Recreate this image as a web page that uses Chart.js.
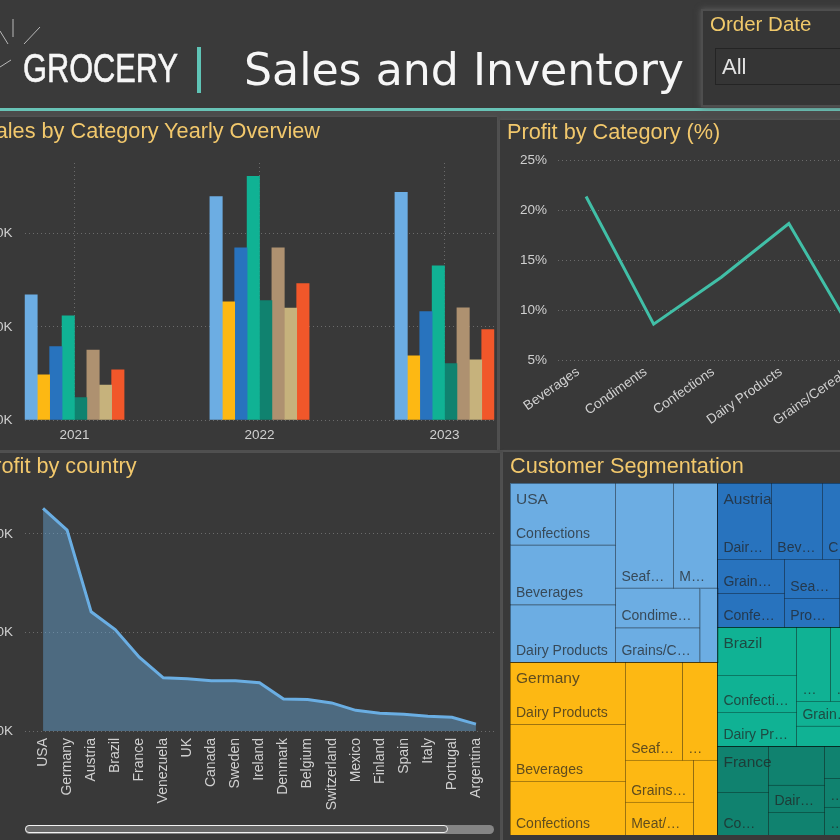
<!DOCTYPE html>
<html><head><meta charset="utf-8">
<script src="https://cdn.jsdelivr.net/npm/chart.js@4.4.1/dist/chart.umd.min.js"></script>
<style>
html,body{margin:0;padding:0;overflow:hidden;}
body{width:840px;height:840px;position:relative;background:#3a3a3a;font-family:'Liberation Sans',Arial,sans-serif;}
.abs{position:absolute;}
canvas{position:absolute;}
</style></head><body>
<div class="abs" style="left:0;top:111px;width:840px;height:729px;background:#4b4b4b"></div>
<div class="abs" style="left:0;top:108px;width:840px;height:3px;background:#68c3b6"></div>
<div class="abs" style="left:-20px;top:117px;width:517px;height:333px;background:#393939;box-shadow:0 0 3px #5a5a5a"></div>
<div class="abs" style="left:500px;top:120px;width:360px;height:330px;background:#393939;box-shadow:0 0 3px #5a5a5a"></div>
<div class="abs" style="left:-20px;top:453px;width:520px;height:400px;background:#393939;box-shadow:0 0 3px #5a5a5a"></div>
<div class="abs" style="left:503px;top:452px;width:360px;height:400px;background:#393939;box-shadow:0 0 3px #5a5a5a"></div>
<div class="abs" style="left:703px;top:11px;width:160px;height:94px;background:#363636;box-shadow:0 0 0 2px #4e4e4e,0 0 6px 2px #5c5c5c"></div>
<div class="abs" style="left:715px;top:48px;width:150px;height:35px;background:#353535;border:1px solid #242424"></div>
<div class="abs" style="left:25px;top:825px;width:469px;height:9px;background:#858585;border-radius:5px"></div>
<div class="abs" style="left:25px;top:825px;width:421px;height:6px;background:#676767;border:1.5px solid #f2f2f2;border-radius:5px"></div>

<canvas id="bar" width="535" height="300" style="left:-40px;top:150px"></canvas>
<canvas id="line" width="397" height="300" style="left:500px;top:150px"></canvas>
<canvas id="area" width="534" height="351" style="left:-40px;top:470px"></canvas>
<canvas id="tree" width="580" height="352" style="left:510px;top:483px"></canvas>

<svg class="abs" style="left:0;top:0" width="840" height="840" xmlns="http://www.w3.org/2000/svg">
  <g stroke="#b8b8b8" stroke-width="1">
    <line x1="13" y1="19" x2="13" y2="37"/>
    <line x1="40" y1="27" x2="24" y2="44"/>
    <line x1="0" y1="31" x2="8" y2="44"/>
    <line x1="0" y1="67" x2="11" y2="60"/>
  </g>
  <text x="23" y="82" font-family="Liberation Sans" font-size="40.5" fill="#f6f6f6" stroke="#f6f6f6" stroke-width="0.6" textLength="155" lengthAdjust="spacingAndGlyphs">GROCERY</text>
  <rect x="197" y="47" width="4" height="46" fill="#5fc4b6"/>
  <text x="244" y="85" font-family="DejaVu Sans" font-size="44" fill="#f6f6f6" textLength="440" lengthAdjust="spacingAndGlyphs">Sales and Inventory</text>
  <text x="710" y="31" font-family="Liberation Sans" font-size="20.5" fill="#f0c96a">Order Date</text>
  <text x="722" y="74" font-family="Liberation Sans" font-size="22" fill="#e4e4e4">All</text>
  <g font-family="Liberation Sans" font-size="21.7" fill="#f2c86c">
    <text x="320" y="138" text-anchor="end">Sales by Category Yearly Overview</text>
    <text x="507" y="139">Profit by Category (%)</text>
    <text x="136.5" y="473" text-anchor="end">Profit by country</text>
    <text x="510" y="473">Customer Segmentation</text>
  </g>
</svg>

<script>
// ---------- data ----------
const years = ['2021', '2022', '2023'];
const categories = ['Beverages', 'Condiments', 'Confections', 'Dairy Products', 'Grains/Cereals', 'Meat/Poultry', 'Produce', 'Seafood'];
const sales2021 = [67200, 24200, 39400, 55900, 12000, 37600, 18800, 26900];
const sales2022 = [120000, 63400, 92500, 130800, 64100, 92500, 60100, 73300];
const sales2023 = [122200, 34400, 58200, 82800, 30300, 60200, 32300, 48600];
const salesTicks = [0, 50000, 100000];

const profitCategories = ['Beverages', 'Condiments', 'Confections', 'Dairy Products', 'Grains/Cereals'];
const profitPct = [21.4, 8.6, 13.3, 18.7, 7.1];
const pctTicks = [5, 10, 15, 20, 25];

const countries = ['USA', 'Germany', 'Austria', 'Brazil', 'France', 'Venezuela', 'UK', 'Canada', 'Sweden', 'Ireland', 'Denmark', 'Belgium', 'Switzerland', 'Mexico', 'Finland', 'Spain', 'Italy', 'Portugal', 'Argentina'];
const profitByCountry = [22600, 20400, 12100, 10300, 7500, 5400, 5300, 5100, 5100, 4900, 3250, 3200, 2850, 2100, 1800, 1700, 1500, 1400, 700];
const profitTicks = [0, 10000, 20000];

// treemap: sales (K) by country and category (order of categories above)
const tmCountries = ['USA', 'Germany', 'Austria', 'Brazil', 'France'];
const tmUSA = [41.2, 21.7, 42.5, 39.8, 19.2, 30.2, 8.7, 39.6];
const tmGermany = [42.8, 22.4, 40.6, 46.6, 18.7, 14.7, 11.8, 36.5];
const tmAustria = [25.3, 18.4, 14.8, 26.8, 14.9, 8.9, 10.4, 14.0];
const tmBrazil = [24.8, 8.3, 19.1, 17.6, 10.2, 14.0, 0, 16.4];
const tmFrance = [14.2, 6.6, 14.3, 9.9, 7.3, 15.3, 6.4, 8.4];
const tmOtherCountries = ['UK', 'Venezuela', 'Sweden', 'Canada', 'Ireland', 'Belgium', 'Denmark', 'Switzerland', 'Mexico', 'Finland', 'Spain', 'Italy', 'Portugal', 'Argentina', 'Norway', 'Poland'];
const tmOtherTotals = [66, 64, 61, 57, 55, 38, 37, 36, 26, 21, 20, 17, 13, 9, 6.5, 4];

// ---------- styles ----------
const palette = ['#6cade3', '#fdb813', '#2873be', '#10b294', '#10826f', '#ae9170', '#c6b27c', '#f1572a'];
const tickColor = '#d0d0d0';
const tickFont = {family: 'Liberation Sans', size: 13.5};
const gridColor = 'rgba(150,150,150,0.55)';
Chart.defaults.font.family = 'Liberation Sans';

const noPlugins = {legend: {display: false}, tooltip: {enabled: false}};
const kLabel = v => (v / 1000) + 'K';
const fixWidth = w => s => { s.width = w; s.paddingTop = 0; s.paddingBottom = 0; };
const fixHeight = h => s => { s.height = h; s.paddingLeft = 0; s.paddingRight = 0; };

// ---------- bar chart ----------
const salesByYear = [sales2021, sales2022, sales2023];
new Chart(document.getElementById('bar'), {
  type: 'bar',
  data: {
    datasets: categories.map((c, k) => ({
      label: c,
      data: years.map((yr, i) => ({x: i, y: salesByYear[i][k]})),
      backgroundColor: palette[k],
      borderWidth: 0,
      barThickness: 12.4
    }))
  },
  options: {
    animation: false, responsive: false,
    layout: {padding: {top: 13, right: 0.5, bottom: 0, left: 0}},
    plugins: noPlugins,
    scales: {
      x: {
        type: 'linear', min: -0.27, max: 2.27, offset: false,
        afterBuildTicks: s => { s.ticks = years.map((_, i) => ({value: i})); },
        afterFit: fixHeight(30),
        ticks: {callback: v => years[v] ?? '', color: tickColor, font: tickFont, padding: 7, maxRotation: 0, autoSkip: false},
        grid: {color: gridColor, lineWidth: 1, drawTicks: false, offset: false},
        border: {display: false, dash: [1, 3]}
      },
      y: {
        min: 0, max: 138000,
        afterBuildTicks: s => { s.ticks = salesTicks.map(v => ({value: v})); },
        afterFit: fixWidth(64.5),
        ticks: {callback: kLabel, color: tickColor, font: tickFont, padding: 12},
        grid: {color: gridColor, lineWidth: 1, drawTicks: false},
        border: {display: false, dash: [1, 3]}
      }
    }
  }
});

// ---------- line chart ----------
new Chart(document.getElementById('line'), {
  type: 'line',
  data: {
    datasets: [{
      data: profitPct.map((v, i) => ({x: i, y: v})),
      borderColor: '#41bfa7', borderWidth: 3, pointRadius: 0, tension: 0, fill: false
    }]
  },
  options: {
    animation: false, responsive: false,
    layout: {padding: {top: 10.7, right: 0, bottom: 0, left: 0}},
    plugins: noPlugins,
    scales: {
      x: {
        type: 'linear', min: -0.415, max: 4.6,
        afterBuildTicks: s => { s.ticks = profitCategories.map((_, i) => ({value: i})); },
        afterFit: fixHeight(90),
        ticks: {callback: v => profitCategories[v] ?? '', color: tickColor, font: tickFont, padding: -4, labelOffset: -8, minRotation: 35, maxRotation: 35, autoSkip: false},
        grid: {display: false},
        border: {display: false}
      },
      y: {
        min: 5, max: 25,
        afterBuildTicks: s => { s.ticks = pctTicks.map(v => ({value: v})); },
        afterFit: fixWidth(58),
        ticks: {callback: v => v + '%', color: tickColor, font: tickFont, padding: 11},
        grid: {color: gridColor, lineWidth: 1, drawTicks: false},
        border: {display: false, dash: [1, 3]}
      }
    }
  }
});

// ---------- area chart ----------
new Chart(document.getElementById('area'), {
  type: 'line',
  data: {
    datasets: [{
      data: profitByCountry.map((v, i) => ({x: i, y: v})),
      borderColor: '#6aaee3', borderWidth: 3, pointRadius: 0, tension: 0,
      fill: 'origin', backgroundColor: 'rgba(106,174,227,0.42)'
    }]
  },
  options: {
    animation: false, responsive: false,
    layout: {padding: {top: 14.75, right: 0, bottom: 0, left: 0}},
    plugins: noPlugins,
    scales: {
      x: {
        type: 'linear', min: -0.75, max: 18.75,
        afterBuildTicks: s => { s.ticks = countries.map((_, i) => ({value: i})); },
        afterFit: fixHeight(90),
        ticks: {callback: v => countries[v] ?? '', color: tickColor, font: {family: 'Liberation Sans', size: 14}, padding: -1, minRotation: 90, maxRotation: 90, autoSkip: false},
        grid: {display: false},
        border: {display: false}
      },
      y: {
        min: 0, max: 25000,
        afterBuildTicks: s => { s.ticks = profitTicks.map(v => ({value: v})); },
        afterFit: fixWidth(65),
        ticks: {callback: kLabel, color: tickColor, font: tickFont, padding: 12},
        grid: {color: gridColor, lineWidth: 1, drawTicks: false},
        border: {display: false, dash: [1, 3]}
      }
    }
  }
});

// ---------- treemap (squarified, golden ratio) ----------
function squarify(nodes, x0, y0, x1, y1) {
  const ratio = (1 + Math.sqrt(5)) / 2;
  let value = nodes.reduce((s, d) => s + d.value, 0);
  let i0 = 0, i1 = 0;
  const n = nodes.length;
  while (i0 < n) {
    const dx = x1 - x0, dy = y1 - y0;
    let sumValue = nodes[i1++].value;
    let minValue = sumValue, maxValue = sumValue;
    const alpha = Math.max(dy / dx, dx / dy) / (value * ratio);
    let beta = sumValue * sumValue * alpha;
    let minRatio = Math.max(maxValue / beta, beta / minValue);
    for (; i1 < n; ++i1) {
      const nv = nodes[i1].value;
      sumValue += nv;
      if (nv < minValue) minValue = nv;
      if (nv > maxValue) maxValue = nv;
      beta = sumValue * sumValue * alpha;
      const newRatio = Math.max(maxValue / beta, beta / minValue);
      if (newRatio > minRatio) { sumValue -= nv; break; }
      minRatio = newRatio;
    }
    const row = nodes.slice(i0, i1);
    if (dx < dy) {
      const yb = i1 >= n ? y1 : y0 + dy * sumValue / value;
      let x = x0;
      row.forEach(d => { const w = dx * d.value / sumValue; d.x0 = x; d.x1 = x + w; d.y0 = y0; d.y1 = yb; x += w; });
      y0 = yb;
    } else {
      const xb = i1 >= n ? x1 : x0 + dx * sumValue / value;
      let y = y0;
      row.forEach(d => { const h = dy * d.value / sumValue; d.x0 = x0; d.x1 = xb; d.y0 = y; d.y1 = y + h; y += h; });
      x0 = xb;
    }
    value -= sumValue;
    i0 = i1;
  }
}

function fitLabel(ctx, text, avail) {
  if (ctx.measureText(text).width <= avail) return text;
  for (let k = text.length - 1; k >= 0; k--) {
    const t = text.slice(0, k) + '\u2026';
    if (ctx.measureText(t).width <= avail) return t;
  }
  return null;
}

const tmValues = [tmUSA, tmGermany, tmAustria, tmBrazil, tmFrance];
const otherColors = ['#ae9170', '#c6b27c', '#f1572a', '#6cade3', '#fdb813', '#2873be', '#10b294', '#10826f', '#ae9170', '#c6b27c', '#f1572a', '#6cade3', '#fdb813', '#2873be', '#10b294', '#10826f'];

const treemapPlugin = {
  id: 'treemap',
  afterDatasetsDraw(chart) {
    const {ctx, chartArea: a, scales: {x, y}} = chart;
    const W = a.right - a.left, H = a.bottom - a.top;
    const groups = tmCountries.map((name, i) => ({
      name, color: palette[i],
      value: tmValues[i].reduce((s, v) => s + v, 0),
      children: categories.map((c, k) => ({name: c, value: tmValues[i][k]})).filter(d => d.value > 0)
    }));
    tmOtherCountries.forEach((name, i) => groups.push({name, color: otherColors[i], value: tmOtherTotals[i], children: [{name, value: tmOtherTotals[i]}]}));
    groups.sort((p, q) => q.value - p.value);
    squarify(groups, 0, 0, W, H);
    groups.forEach(g => {
      g.children.sort((p, q) => q.value - p.value);
      squarify(g.children, g.x0, g.y0, g.x1, g.y1);
    });
    const px = v => x.getPixelForValue(v / W);
    const py = v => y.getPixelForValue(v / H);
    ctx.save();
    groups.forEach(g => {
      g.children.forEach(d => {
        ctx.fillStyle = g.color;
        ctx.fillRect(px(d.x0), py(d.y0), px(d.x1) - px(d.x0), py(d.y1) - py(d.y0));
      });
    });
    ctx.lineWidth = 1;
    ctx.strokeStyle = 'rgba(0,0,0,0.16)';
    groups.forEach(g => g.children.forEach(d => {
      ctx.strokeRect(Math.round(px(d.x0)) + 0.5, Math.round(py(d.y0)) + 0.5, Math.round(px(d.x1) - px(d.x0)), Math.round(py(d.y1) - py(d.y0)));
    }));
    ctx.strokeStyle = 'rgba(0,0,0,0.28)';
    groups.forEach(g => {
      ctx.strokeRect(Math.round(px(g.x0)) + 0.5, Math.round(py(g.y0)) + 0.5, Math.round(px(g.x1) - px(g.x0)), Math.round(py(g.y1) - py(g.y0)));
    });
    ctx.fillStyle = 'rgba(35,35,35,0.72)';
    ctx.textBaseline = 'alphabetic';
    groups.forEach(g => {
      if (g.children.length > 1) {
        ctx.font = '14px "Liberation Sans"';
        g.children.forEach(d => {
          const w = px(d.x1) - px(d.x0), h = py(d.y1) - py(d.y0);
          if (h < 24) return;
          if (Math.abs(d.y0 - g.y0) < 0.5 && h < 55) return;
          const t = fitLabel(ctx, d.name, w - 12.5);
          if (t) ctx.fillText(t, px(d.x0) + 6, py(d.y1) - 7);
        });
      }
      ctx.font = '15.5px "Liberation Sans"';
      const gt = fitLabel(ctx, g.name, px(g.x1) - px(g.x0) - 12);
      if (gt) ctx.fillText(gt, px(g.x0) + 6, py(g.y0) + 21);
    });
    ctx.restore();
  }
};

new Chart(document.getElementById('tree'), {
  type: 'scatter',
  data: {datasets: []},
  options: {
    animation: false, responsive: false,
    layout: {padding: 0},
    plugins: noPlugins,
    scales: {
      x: {type: 'linear', min: 0, max: 1, display: false},
      y: {type: 'linear', min: 0, max: 1, reverse: true, display: false}
    }
  },
  plugins: [treemapPlugin]
});
</script>
</body></html>
